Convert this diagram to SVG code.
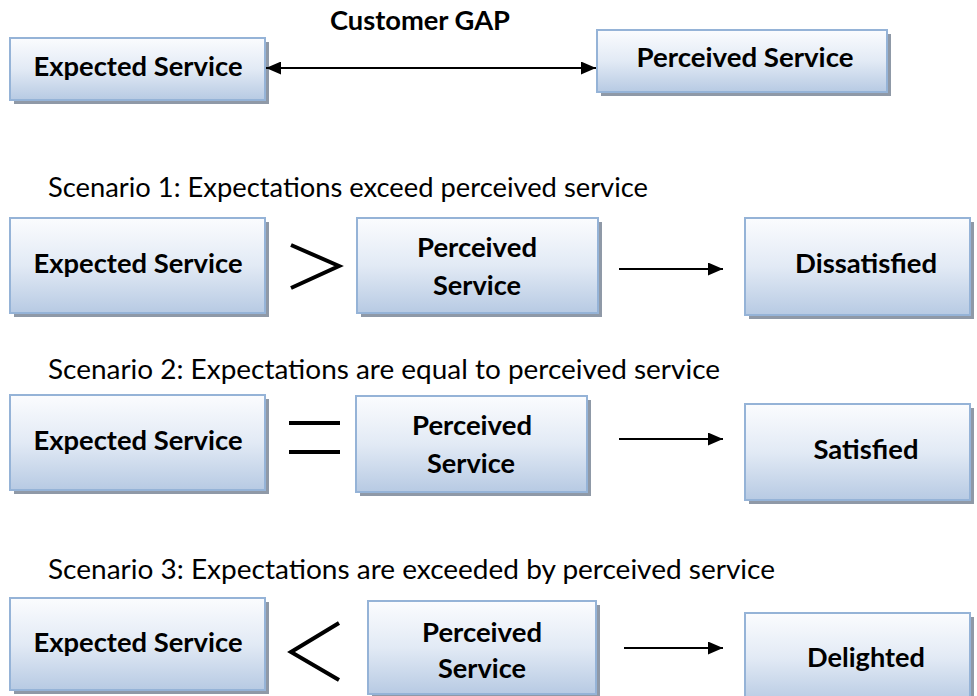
<svg xmlns="http://www.w3.org/2000/svg" width="977" height="696" viewBox="0 0 977 696">
<defs>
<linearGradient id="g" x1="0" y1="0" x2="0" y2="1">
<stop offset="0" stop-color="#fbfcfe"/>
<stop offset="0.5" stop-color="#e2eaf5"/>
<stop offset="1" stop-color="#b7cae3"/>
</linearGradient>
<marker id="ah" viewBox="0 0 15 13" refX="15" refY="6.5" markerWidth="15" markerHeight="13" markerUnits="userSpaceOnUse" orient="auto-start-reverse">
<path d="M0,0 L15,6.5 L0,13 Z" fill="#000"/>
</marker>
<style>
.sh{fill:#8f99a7}
.bx{fill:url(#g);stroke:#95b3d7;stroke-width:2}
.lb{font-family:Lato,"Open Sans","Liberation Sans",sans-serif;font-weight:bold;font-size:27px;fill:#000;text-anchor:middle}
.sc{font-family:Lato,"Open Sans","Liberation Sans",sans-serif;font-size:26px;fill:#000}
.cn{stroke:#000;stroke-width:2;fill:none}
.sym{stroke:#000;stroke-width:4;fill:none}
</style>
</defs>
<rect width="977" height="696" fill="#fff"/>

<g id="top-expected">
<rect class="sh" x="14" y="42" width="255" height="62"/>
<rect class="bx" x="10" y="38" width="255" height="62"/>
<text class="lb" x="138" y="76" textLength="209" lengthAdjust="spacingAndGlyphs">Expected Service</text>
</g>
<g id="top-perceived">
<rect class="sh" x="601" y="34" width="290" height="62"/>
<rect class="bx" x="597" y="30" width="290" height="62"/>
<text class="lb" x="745" y="67" textLength="217" lengthAdjust="spacingAndGlyphs">Perceived Service</text>
</g>
<text id="gap-label" class="lb" x="420" y="30" textLength="180" lengthAdjust="spacingAndGlyphs">Customer GAP</text>

<text class="sc" x="48" y="197" textLength="600" lengthAdjust="spacingAndGlyphs">Scenario 1: Expectations exceed perceived service</text>
<g id="s1-expected">
<rect class="sh" x="14" y="222" width="255" height="95"/>
<rect class="bx" x="10" y="218" width="255" height="95"/>
<text class="lb" x="138" y="273" textLength="209" lengthAdjust="spacingAndGlyphs">Expected Service</text>
</g>
<path id="s1-gt" class="sym" d="M291,245 L339,266 L291,288"/>
<g id="s1-perceived">
<rect class="sh" x="361" y="222" width="241" height="95"/>
<rect class="bx" x="357" y="218" width="241" height="95"/>
<text class="lb" x="477" y="257" textLength="120" lengthAdjust="spacingAndGlyphs">Perceived</text>
<text class="lb" x="477" y="295" textLength="88" lengthAdjust="spacingAndGlyphs">Service</text>
</g>
<g id="s1-dissatisfied">
<rect class="sh" x="749" y="222" width="225" height="97"/>
<rect class="bx" x="745" y="218" width="225" height="97"/>
<text class="lb" x="866" y="273" textLength="142" lengthAdjust="spacingAndGlyphs">Dissatisfied</text>
</g>

<text class="sc" x="48" y="379" textLength="672" lengthAdjust="spacingAndGlyphs">Scenario 2: Expectations are equal to perceived service</text>
<g id="s2-expected">
<rect class="sh" x="14" y="399" width="255" height="95"/>
<rect class="bx" x="10" y="395" width="255" height="95"/>
<text class="lb" x="138" y="450" textLength="209" lengthAdjust="spacingAndGlyphs">Expected Service</text>
</g>
<g id="s2-eq" class="sym">
<line x1="289" y1="423" x2="340" y2="423"/>
<line x1="289" y1="452" x2="340" y2="452"/>
</g>
<g id="s2-perceived">
<rect class="sh" x="360" y="400" width="231" height="96"/>
<rect class="bx" x="356" y="396" width="231" height="96"/>
<text class="lb" x="472" y="435" textLength="120" lengthAdjust="spacingAndGlyphs">Perceived</text>
<text class="lb" x="471" y="473" textLength="88" lengthAdjust="spacingAndGlyphs">Service</text>
</g>
<g id="s2-satisfied">
<rect class="sh" x="749" y="408" width="225" height="96"/>
<rect class="bx" x="745" y="404" width="225" height="96"/>
<text class="lb" x="866" y="459" textLength="105" lengthAdjust="spacingAndGlyphs">Satisfied</text>
</g>

<text class="sc" x="48" y="579" textLength="727" lengthAdjust="spacingAndGlyphs">Scenario 3: Expectations are exceeded by perceived service</text>
<g id="s3-expected">
<rect class="sh" x="14" y="602" width="255" height="92"/>
<rect class="bx" x="10" y="598" width="255" height="92"/>
<text class="lb" x="138" y="652" textLength="209" lengthAdjust="spacingAndGlyphs">Expected Service</text>
</g>
<path id="s3-lt" class="sym" d="M339,623 L291,652 L339,680"/>
<g id="s3-perceived">
<rect class="sh" x="372" y="605" width="228" height="94"/>
<rect class="bx" x="368" y="601" width="228" height="93"/>
<text class="lb" x="482" y="642" textLength="120" lengthAdjust="spacingAndGlyphs">Perceived</text>
<text class="lb" x="482" y="678" textLength="88" lengthAdjust="spacingAndGlyphs">Service</text>
</g>
<g id="s3-delighted">
<rect class="sh" x="749" y="617" width="225" height="90"/>
<rect class="bx" x="745" y="613" width="225" height="90"/>
<text class="lb" x="866" y="667" textLength="118" lengthAdjust="spacingAndGlyphs">Delighted</text>
</g>

<g id="connectors">
<line class="cn" x1="266" y1="68" x2="596" y2="68" marker-start="url(#ah)" marker-end="url(#ah)"/>
<line class="cn" x1="619" y1="269" x2="723" y2="269" marker-end="url(#ah)"/>
<line class="cn" x1="619" y1="439" x2="723" y2="439" marker-end="url(#ah)"/>
<line class="cn" x1="624" y1="648" x2="723" y2="648" marker-end="url(#ah)"/>
</g>
</svg>
